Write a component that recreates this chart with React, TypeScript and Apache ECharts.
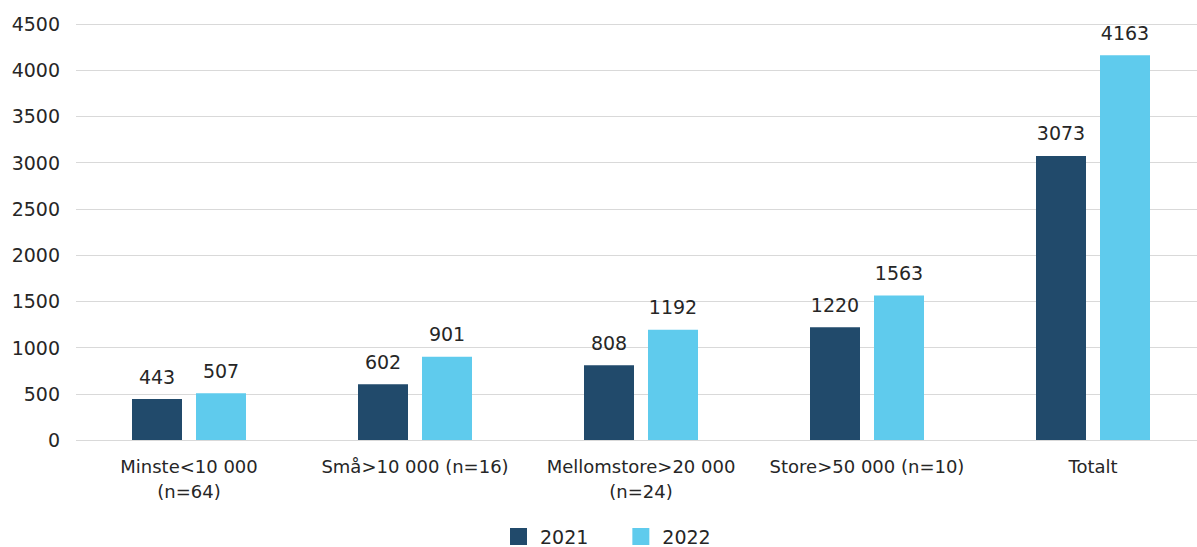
import React, { useEffect, useRef } from "react";
import * as echarts from "echarts";

const categories = [
  "Minste<10 000\n(n=64)",
  "Små>10 000 (n=16)",
  "Mellomstore>20 000\n(n=24)",
  "Store>50 000 (n=10)",
  "Totalt",
];
const values2021 = [443, 602, 808, 1220, 3073];
const values2022 = [507, 901, 1192, 1563, 4163];
const seriesNames = ["2021", "2022"];
const colors = ["#214a6b", "#5fcbed"];

const FONT = "DejaVu Sans";
const TEXT = "#262626";

export default function App() {
  const ref = useRef<HTMLDivElement>(null);

  useEffect(() => {
    document.body.style.margin = "0";
    const chart = echarts.init(ref.current!, null, { renderer: "svg" });
    const label = {
      show: true,
      position: "top" as const,
      distance: 13,
      color: TEXT,
      fontSize: 19,
      fontFamily: FONT,
    };
    chart.setOption({
      animation: false,
      textStyle: { fontFamily: FONT },
      grid: { left: 76, right: 0, top: 24, bottom: 107 },
      legend: {
        bottom: 0,
        left: 505,
        padding: [5, 5, 1, 5],
        itemWidth: 17,
        itemHeight: 17,
        itemGap: 44,
        icon: "rect",
        textStyle: { fontSize: 19, color: TEXT, fontFamily: FONT, padding: [0, 0, 0, 8] },
        data: seriesNames,
      },
      xAxis: {
        type: "category",
        data: categories,
        axisLine: { show: false },
        axisTick: { show: false },
        axisLabel: {
          color: TEXT,
          fontSize: 18,
          fontFamily: FONT,
          margin: 14,
          lineHeight: 25,
          interval: 0,
        },
      },
      yAxis: {
        type: "value",
        min: 0,
        max: 4500,
        interval: 500,
        axisLine: { show: false },
        axisTick: { show: false },
        axisLabel: {
          color: TEXT,
          fontSize: 19,
          fontFamily: FONT,
          margin: 16,
          formatter: (v: number) => String(v),
        },
        splitLine: { lineStyle: { color: "#d9d9d9", width: 1 } },
      },
      series: [
        {
          name: seriesNames[0],
          type: "bar",
          data: values2021,
          itemStyle: { color: colors[0] },
          barWidth: 50,
          barGap: "28%",
          label,
        },
        {
          name: seriesNames[1],
          type: "bar",
          data: values2022,
          itemStyle: { color: colors[1] },
          barWidth: 50,
          label,
        },
      ],
    });
    return () => chart.dispose();
  }, []);

  // The plot runs slightly past the right edge of the visible frame.
  return (
    <div style={{ width: 1197, height: 547, overflow: "hidden" }}>
      <div ref={ref} style={{ width: 1206, height: 547 }} />
    </div>
  );
}
